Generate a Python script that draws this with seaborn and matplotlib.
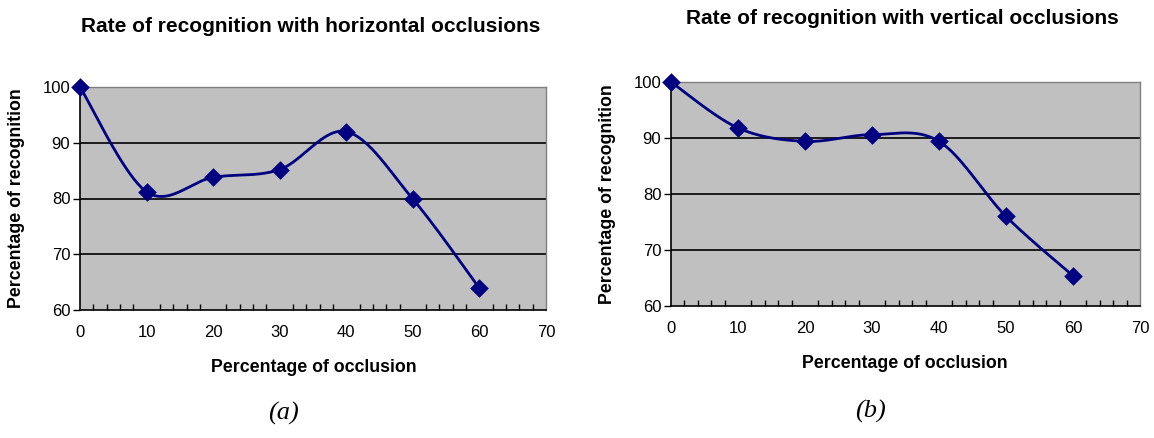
import numpy as np
import pandas as pd
import matplotlib
matplotlib.use("Agg")
import matplotlib.pyplot as plt
import seaborn as sns
from matplotlib.ticker import MultipleLocator

occlusion = [0, 10, 20, 30, 40, 50, 60]
horizontal_rate = [100.0, 81.2, 83.8, 85.2, 92.0, 79.9, 63.9]
vertical_rate = [100.0, 91.8, 89.4, 90.6, 89.4, 76.0, 65.4]
titles = ["Rate of recognition with horizontal occlusions",
          "Rate of recognition with vertical occlusions"]
xlabel = "Percentage of occlusion"
ylabel = "Percentage of recognition"
panel_labels = ["(a)", "(b)"]

sns.set_style("white")
plt.rcParams['font.family'] = ['Liberation Sans', 'DejaVu Sans']
plt.rcParams['text.color'] = 'black'
plt.rcParams['xtick.color'] = 'black'
plt.rcParams['ytick.color'] = 'black'
plt.rcParams['xtick.labelcolor'] = 'black'
plt.rcParams['ytick.labelcolor'] = 'black'

NAVY = "#000080"


def smooth_curve(xs, ys, n=40):
    """Excel-style smoothed line: cubic Bezier with Catmull-Rom control points."""
    p = np.column_stack([xs, ys]).astype(float)
    out = []
    m = len(p)
    for i in range(m - 1):
        p0 = p[i - 1] if i > 0 else p[i]
        p1 = p[i]
        p2 = p[i + 1]
        p3 = p[i + 2] if i + 2 < m else p[i + 1]
        c1 = p1 + (p2 - p0) / 6.0
        c2 = p2 - (p3 - p1) / 6.0
        t = np.linspace(0, 1, n)[:, None]
        seg = ((1 - t) ** 3) * p1 + 3 * ((1 - t) ** 2) * t * c1 + 3 * (1 - t) * t ** 2 * c2 + t ** 3 * p2
        out.append(seg if i == 0 else seg[1:])
    arr = np.vstack(out)
    return arr[:, 0], arr[:, 1]


fig = plt.figure(figsize=(11.54, 4.38), dpi=100)
positions = [
    [80 / 1154, 1 - 310 / 438, (546 - 80) / 1154, (310 - 87) / 438],
    [671 / 1154, 1 - 306 / 438, (1140 - 671) / 1154, (306 - 82) / 438],
]
title_pos = [(311, 27), (902, 18)]
xlabel_pos = [(314, 368), (905, 363)]
ylabel_pos = [(17, 198), (607, 194)]
panel_pos = [(283, 413), (870, 411)]

for k, vals in enumerate([horizontal_rate, vertical_rate]):
    ax = fig.add_axes(positions[k])
    ax.set_facecolor("#C0C0C0")
    sx, sy = smooth_curve(occlusion, vals)
    curve = pd.DataFrame({"x": sx, "y": sy})
    pts = pd.DataFrame({"x": occlusion, "y": vals})
    sns.lineplot(data=curve, x="x", y="y", sort=False, color=NAVY, linewidth=2,
                 ax=ax, zorder=3)
    sns.scatterplot(data=pts, x="x", y="y", marker="D", s=90, color=NAVY,
                    edgecolor=NAVY, linewidth=0, ax=ax, zorder=4, clip_on=False)
    ax.set_xlim(0, 70)
    ax.set_ylim(60, 100)
    ax.xaxis.set_major_locator(MultipleLocator(10))
    ax.xaxis.set_minor_locator(MultipleLocator(2))
    ax.yaxis.set_major_locator(MultipleLocator(10))
    for yv in [70, 80, 90]:
        ax.axhline(yv, color="black", linewidth=1.2, zorder=1)
    ax.tick_params(axis="x", which="major", direction="inout", length=9, width=1,
                   labelsize=12, pad=6, colors="black")
    ax.tick_params(axis="x", which="minor", direction="in", length=4, width=1,
                   bottom=True, colors="black")
    ax.tick_params(axis="y", which="major", direction="out", length=5, width=1,
                   labelsize=12, pad=2, left=True, colors="black")
    for s in ["top", "right"]:
        ax.spines[s].set_color("#808080")
        ax.spines[s].set_linewidth(1)
    for s in ["left", "bottom"]:
        ax.spines[s].set_color("black")
        ax.spines[s].set_linewidth(1.2)
    ax.set_xlabel("")
    ax.set_ylabel("")

    fig.text(title_pos[k][0] / 1154, 1 - title_pos[k][1] / 438, titles[k],
             ha="center", va="center", fontsize=15, fontweight="bold")
    fig.text(xlabel_pos[k][0] / 1154, 1 - xlabel_pos[k][1] / 438, xlabel,
             ha="center", va="center", fontsize=12.8, fontweight="bold")
    fig.text(ylabel_pos[k][0] / 1154, 1 - ylabel_pos[k][1] / 438, ylabel,
             ha="center", va="center", fontsize=12.8, fontweight="bold",
             rotation=90)
    fig.text(panel_pos[k][0] / 1154, 1 - panel_pos[k][1] / 438, panel_labels[k],
             ha="center", va="center", fontsize=19, fontstyle="italic",
             family=["Liberation Serif", "DejaVu Serif"])

fig.savefig("out.png", dpi=100)
